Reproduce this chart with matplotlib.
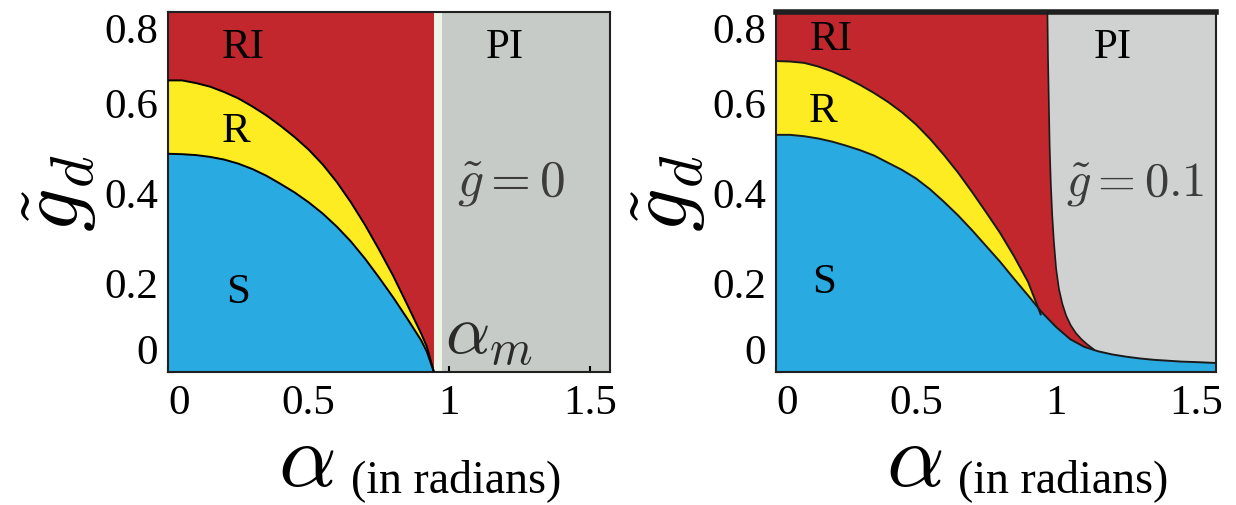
import numpy as np
import matplotlib
matplotlib.use("Agg")
import matplotlib.pyplot as plt

plt.rcParams['mathtext.fontset'] = 'cm'
plt.rcParams['font.family'] = ['Liberation Serif', 'DejaVu Serif']

# ---------------- data ----------------
# Left panel (g~ = 0)
alpha_m = 0.945
strip_width = 0.03
alpha_L = [0.0, 0.05, 0.1, 0.15, 0.2, 0.25, 0.3, 0.35, 0.4, 0.45, 0.5, 0.55, 0.6,
           0.65, 0.7, 0.75, 0.8, 0.85, 0.9, 0.92, 0.945]
S_L = [0.485, 0.484, 0.482, 0.478, 0.472, 0.463, 0.451, 0.436, 0.418, 0.399, 0.377,
       0.352, 0.323, 0.290, 0.252, 0.210, 0.166, 0.119, 0.070, 0.045, 0.0]
R_L = [0.648, 0.648, 0.642, 0.634, 0.622, 0.608, 0.590, 0.570, 0.547, 0.522, 0.494,
       0.461, 0.422, 0.377, 0.327, 0.272, 0.214, 0.150, 0.085, 0.056, 0.0]

# Right panel (g~ = 0.1)
alpha_S_R = [0.0, 0.05, 0.1, 0.15, 0.2, 0.25, 0.3, 0.35, 0.4, 0.45, 0.5, 0.55, 0.6,
             0.65, 0.7, 0.75, 0.8, 0.85, 0.9, 0.95, 1.0, 1.05, 1.1, 1.15, 1.2, 1.25,
             1.3, 1.35, 1.4, 1.45, 1.5, 1.5708]
S_R = [0.527, 0.527, 0.524, 0.519, 0.512, 0.503, 0.493, 0.481, 0.465, 0.449, 0.430,
       0.406, 0.378, 0.348, 0.315, 0.280, 0.245, 0.207, 0.170, 0.132, 0.100, 0.073,
       0.056, 0.046, 0.039, 0.034, 0.030, 0.027, 0.025, 0.023, 0.022, 0.020]
alpha_R_R = [0.0, 0.05, 0.1, 0.15, 0.2, 0.25, 0.3, 0.35, 0.4, 0.45, 0.5, 0.55, 0.6,
             0.65, 0.7, 0.75, 0.8, 0.85, 0.9, 0.945]
R_R = [0.691, 0.690, 0.687, 0.679, 0.668, 0.654, 0.638, 0.620, 0.600, 0.577, 0.550,
       0.518, 0.482, 0.443, 0.400, 0.355, 0.309, 0.257, 0.200, 0.128]
alpha_PI = [0.969, 0.971, 0.974, 0.977, 0.981, 0.986, 0.992, 1.000, 1.010, 1.022,
            1.036, 1.052, 1.070, 1.090, 1.110, 1.135]
g_PI = [0.80, 0.70, 0.60, 0.50, 0.42, 0.35, 0.29, 0.23, 0.185, 0.152, 0.125, 0.104,
        0.087, 0.073, 0.062, 0.050]

xticks = [0, 0.5, 1, 1.5]
xticklabels = ['0', '0.5', '1', '1.5']
yticks = [0, 0.2, 0.4, 0.6, 0.8]
yticklabels = ['0', '0.2', '0.4', '0.6', '0.8']
region_labels = ['RI', 'PI', 'R', 'S']

# ---------------- style ----------------
RED = '#C1272D'
YEL = '#FCEC21'
BLUE = '#29AAE1'
GREY_L = '#C7CBC8'
GREY_R = '#CFD2D0'
STRIP = '#EEF4E6'
XMAX = np.pi / 2
YMAX = 0.8

fig = plt.figure(figsize=(12.36, 5.06), dpi=100)
axL = fig.add_axes([168 / 1236, 133 / 506, 442 / 1236, 360 / 506])
axR = fig.add_axes([776 / 1236, 133 / 506, 440 / 1236, 360 / 506])


def style_axes(ax, top_lw):
    ax.set_xlim(0, XMAX)
    ax.set_ylim(0, YMAX)
    ax.set_xticks(xticks, xticklabels)
    ax.set_yticks(yticks, yticklabels)
    ax.tick_params(direction='in', length=4, width=1.5, labelsize=31,
                   top=False, right=False)
    ax.tick_params(axis='x', pad=8)
    ax.tick_params(axis='y', pad=7)
    for s in ['left', 'right', 'bottom']:
        ax.spines[s].set_linewidth(1.5)
        ax.spines[s].set_color('#202020')
    ax.spines['top'].set_linewidth(top_lw)
    ax.spines['top'].set_color('#202020')
    yt = ax.yaxis.get_major_ticks()
    yt[0].label1.set_va('bottom')
    yt[-1].label1.set_va('top')
    xt = ax.xaxis.get_major_ticks()
    xt[0].label1.set_ha('left')
    # axis labels
    ax.text(-0.245, 0.5, r'$\tilde{g}_d$', transform=ax.transAxes, rotation=90,
            fontsize=62, ha='center', va='center')
    ax.text(0.25, -0.315, r'$\alpha$', transform=ax.transAxes, fontsize=65,
            ha='left', va='baseline')
    ax.text(0.414, -0.33, '(in radians)', transform=ax.transAxes, fontsize=33,
            ha='left', va='baseline')


# ---- left panel ----
axL.set_facecolor(GREY_L)
axL.axvspan(0, alpha_m, color=RED, lw=0, zorder=1)
axL.axvspan(alpha_m, alpha_m + strip_width, color=STRIP, lw=0, zorder=1)
axL.fill_between(alpha_L, S_L, R_L, color=YEL, lw=0, zorder=2)
axL.fill_between(alpha_L, 0, S_L, color=BLUE, lw=0, zorder=2)
axL.plot(alpha_L, S_L, color='black', lw=1.4, zorder=3, solid_joinstyle='round')
axL.plot(alpha_L, R_L, color='black', lw=1.4, zorder=3, solid_joinstyle='round')
style_axes(axL, 1.5)

axL.text(0.267, 0.722, region_labels[0], fontsize=31, ha='center', va='center')
axL.text(1.197, 0.722, region_labels[1], fontsize=31, ha='center', va='center')
axL.text(0.243, 0.537, region_labels[2], fontsize=31, ha='center', va='center')
axL.text(0.249, 0.178, region_labels[3], fontsize=31, ha='center', va='center')
axL.text(1.22, 0.422, r'$\tilde{g}=0$', fontsize=37, ha='center', va='center',
         color='#3c3c3c')
axL.text(0.985, 0.08, r'$\alpha_m$', fontsize=50, ha='left', va='center',
         color='#2a2a2a')

# ---- right panel ----
axR.set_facecolor(GREY_R)
aS = np.array(alpha_S_R)
sS = np.array(S_R)
keep = aS <= alpha_PI[-1]
red_x = [0.0] + alpha_PI + list(aS[keep][::-1])
red_y = [YMAX] + g_PI + list(sS[keep][::-1])
axR.fill(red_x, red_y, color=RED, lw=0, zorder=1)
S_at_R = np.interp(alpha_R_R, alpha_S_R, S_R)
axR.fill_between(alpha_R_R, S_at_R, R_R, color=YEL, lw=0, zorder=2)
axR.fill_between(alpha_S_R, 0, S_R, color=BLUE, lw=0, zorder=2)
axR.plot(alpha_S_R, S_R, color='#1a1a1a', lw=1.4, zorder=3, solid_joinstyle='round')
axR.plot(alpha_R_R, R_R, color='#1a1a1a', lw=1.4, zorder=3, solid_joinstyle='round')
axR.plot(alpha_PI, g_PI, color='#1a1a1a', lw=1.2, zorder=3, solid_joinstyle='round')
style_axes(axR, 4)

axR.text(0.196, 0.741, region_labels[0], fontsize=31, ha='center', va='center')
axR.text(1.202, 0.722, region_labels[1], fontsize=31, ha='center', va='center')
axR.text(0.167, 0.581, region_labels[2], fontsize=31, ha='center', va='center')
axR.text(0.173, 0.200, region_labels[3], fontsize=31, ha='center', va='center')
axR.text(1.282, 0.419, r'$\tilde{g}=0.1$', fontsize=35, ha='center', va='center',
         color='#3c3c3c')

fig.savefig('out.png', dpi=100)
